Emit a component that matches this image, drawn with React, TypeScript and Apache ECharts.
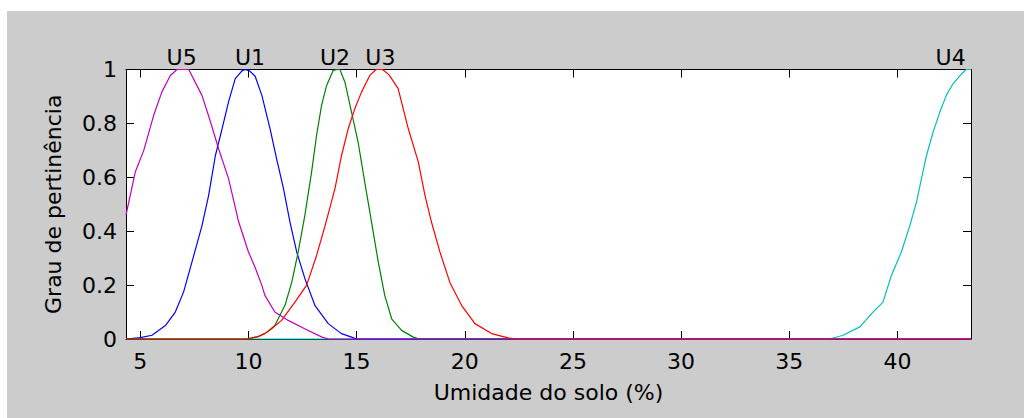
import React, { useEffect, useRef } from "react";
import * as echarts from "echarts";

// Membership curves for soil moisture classes, as [umidade %, grau] pairs
const u5: [number, number][] = [
  [4.34, 0.46], [4.77, 0.62], [5.16, 0.7], [5.62, 0.83], [6.0, 0.917], [6.39, 0.978],
  [6.7, 1.0], [7.24, 1.0], [7.85, 0.904], [8.23, 0.81], [8.62, 0.706], [9.08, 0.595],
  [9.55, 0.434], [10.0, 0.323], [10.3, 0.267], [10.62, 0.199], [10.76, 0.162],
  [11.22, 0.1], [11.84, 0.069], [12.6, 0.038], [13.4, 0.007], [13.7, 0], [43.4, 0],
];
const u1: [number, number][] = [
  [4.34, 0], [5.0, 0.005], [5.54, 0.014], [6.16, 0.05], [6.62, 0.1], [7.0, 0.174],
  [7.39, 0.286], [7.85, 0.42], [8.16, 0.533], [8.47, 0.68], [8.78, 0.78], [9.08, 0.88],
  [9.39, 0.966], [9.7, 0.995], [9.85, 1.0], [10.05, 0.995], [10.31, 0.975], [10.62, 0.904],
  [11.0, 0.78], [11.3, 0.669], [11.62, 0.558], [11.92, 0.434], [12.23, 0.323], [12.61, 0.224],
  [13.07, 0.125], [13.69, 0.057], [14.3, 0.02], [14.77, 0.007], [15.0, 0], [43.4, 0],
];
const u2: [number, number][] = [
  [4.34, 0], [9.9, 0], [10.5, 0.01], [10.85, 0.025], [11.22, 0.05], [11.69, 0.125],
  [12.0, 0.21], [12.3, 0.323], [12.61, 0.46], [12.92, 0.62], [13.15, 0.756], [13.38, 0.867],
  [13.61, 0.94], [13.92, 0.997], [14.1, 1.0], [14.23, 1.0], [14.46, 0.953], [14.77, 0.84],
  [15.07, 0.73], [15.38, 0.58], [15.69, 0.434], [16.0, 0.286], [16.3, 0.162],
  [16.62, 0.075], [17.08, 0.032], [17.62, 0.007], [17.9, 0], [43.4, 0],
];
const u3: [number, number][] = [
  [4.34, 0], [10.0, 0], [10.4, 0.008], [10.76, 0.02], [11.1, 0.04], [11.53, 0.069],
  [12.15, 0.137], [12.69, 0.2], [13.15, 0.31], [13.54, 0.42], [14.0, 0.558], [14.3, 0.68],
  [14.61, 0.78], [14.92, 0.855], [15.23, 0.917], [15.61, 0.978], [15.9, 1.0], [16.2, 1.0],
  [16.5, 0.98], [16.92, 0.929], [17.39, 0.78], [17.85, 0.657], [18.16, 0.533],
  [18.46, 0.434], [18.85, 0.323], [19.31, 0.21], [19.85, 0.125], [20.47, 0.057],
  [21.24, 0.02], [22.0, 0.004], [22.4, 0], [43.4, 0],
];
const u4: [number, number][] = [
  [4.34, 0], [36.87, 0], [37.49, 0.014], [38.26, 0.045], [38.87, 0.1], [39.33, 0.137],
  [39.72, 0.236], [40.18, 0.323], [40.57, 0.42], [40.88, 0.508], [41.11, 0.595],
  [41.34, 0.68], [41.65, 0.768], [41.96, 0.842], [42.26, 0.904], [42.57, 0.947],
  [42.96, 0.984], [43.19, 1.0], [43.4, 1.0],
];

// Where each class name sits above the top edge (x in %)
const labelX: Record<string, number> = { U5: 6.91, U1: 10.07, U2: 14.0, U3: 16.1, U4: 42.46 };

const xTicks = [5, 10, 15, 20, 25, 30, 35, 40];
const xMin = 4.34;
const xMax = 43.4;

const FONT = "DejaVu Sans";

export default function App() {
  const ref = useRef<HTMLDivElement>(null);

  useEffect(() => {
    if (!ref.current) return;
    const chart = echarts.init(ref.current, undefined, { renderer: "svg" });

    const makeSeries = (name: string, data: [number, number][], color: string) => ({
      name,
      type: "line",
      data,
      showSymbol: false,
      symbol: "none",
      clip: false,
      lineStyle: { color, width: 1.2 },
      itemStyle: { color },
      markPoint: {
        silent: true,
        symbol: "circle",
        symbolSize: 0,
        data: [{ name, coord: [labelX[name], 1] }],
        label: {
          show: true,
          position: "top",
          distance: 1,
          formatter: "{b}",
          color: "#000",
          fontSize: 22,
          fontFamily: FONT,
        },
      },
    });

    const axisLine = { show: true, onZero: false, lineStyle: { color: "#000", width: 1 } };

    chart.setOption({
      animation: false,
      backgroundColor: "transparent",
      grid: { left: 119, right: 53, top: 58.5, bottom: 79, show: true, backgroundColor: "#ffffff", borderWidth: 0 },
      xAxis: [
        {
          type: "value",
          position: "bottom",
          min: xMin,
          max: xMax,
          axisLine,
          axisTick: { inside: true, length: 8, customValues: xTicks, lineStyle: { color: "#000" } },
          axisLabel: { customValues: xTicks, color: "#000", fontSize: 22, fontFamily: FONT, margin: 11 },
          splitLine: { show: false },
          name: "Umidade do solo (%)",
          nameLocation: "middle",
          nameGap: 42,
          nameTextStyle: { color: "#000", fontSize: 22, fontFamily: FONT },
        },
        {
          type: "value",
          position: "top",
          min: xMin,
          max: xMax,
          axisLine,
          axisTick: { inside: true, length: 8, customValues: xTicks, lineStyle: { color: "#000" } },
          axisLabel: { show: false },
          splitLine: { show: false },
        },
      ],
      yAxis: [
        {
          type: "value",
          position: "left",
          min: 0,
          max: 1,
          interval: 0.2,
          axisLine,
          axisTick: { inside: true, length: 8, lineStyle: { color: "#000" } },
          axisLabel: { color: "#000", fontSize: 22, fontFamily: FONT, margin: 9 },
          splitLine: { show: false },
          name: "Grau de pertinência",
          nameLocation: "middle",
          nameGap: 62,
          nameTextStyle: { color: "#000", fontSize: 22, fontFamily: FONT },
        },
        {
          type: "value",
          position: "right",
          min: 0,
          max: 1,
          interval: 0.2,
          axisLine,
          axisTick: { inside: true, length: 8, lineStyle: { color: "#000" } },
          axisLabel: { show: false },
          splitLine: { show: false },
        },
      ],
      series: [
        makeSeries("U4", u4, "#00bfbf"),
        makeSeries("U1", u1, "#0000ff"),
        makeSeries("U2", u2, "#008000"),
        makeSeries("U3", u3, "#ff0000"),
        makeSeries("U5", u5, "#bf00bf"),
      ],
    });

    return () => chart.dispose();
  }, []);

  return (
    <div style={{ position: "fixed", left: 0, top: 0, width: 1024, height: 418, background: "#ffffff" }}>
      <div
        ref={ref}
        style={{ position: "absolute", left: 7, top: 11, width: 1017, height: 407, background: "#cccccc" }}
      />
    </div>
  );
}
